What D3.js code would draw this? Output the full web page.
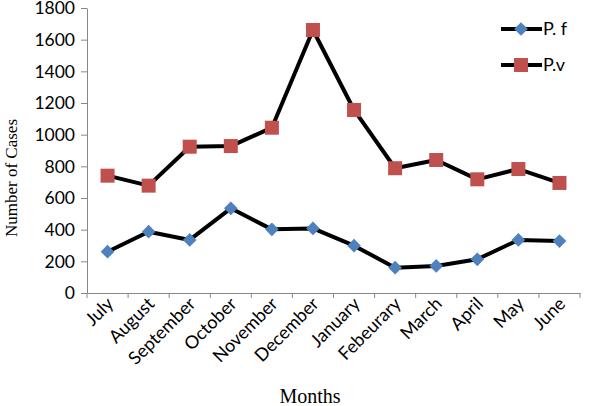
<!DOCTYPE html>
<html><head><meta charset="utf-8">
<script src="https://cdn.jsdelivr.net/npm/d3@7"></script>
<style>body{margin:0;background:#fff}svg{display:block}</style>
</head><body><svg id="c" width="600" height="406"></svg>
<script>
const months = ["July","August","September","October","November","December","January","Febeurary","March","April","May","June"];
const pf = [261,387,335,535,402,408,299,160,171,213,335,328];
const pv = [741,678,924,928,1044,1661,1156,788,840,718,783,695];
const yTicks = [0,200,400,600,800,1000,1200,1400,1600,1800];

(function(){
const svg = d3.select("#c");
const mLeft = 87, mRight = 580, mTop = 8, mBottom = 293;
const x = d3.scaleBand().domain(months).range([mLeft, mRight]);
const y = d3.scaleLinear().domain([0,1800]).range([mBottom, mTop]);
const axisColor = "#888";
const sans = "Lato, 'Open Sans', sans-serif";

// y axis
const ya = svg.append("g").attr("transform",`translate(${mLeft},0)`)
  .call(d3.axisLeft(y).tickValues(yTicks).tickFormat(d3.format("d")).tickSize(6).tickPadding(5).tickSizeOuter(0));
ya.select(".domain").attr("stroke", axisColor);
ya.selectAll(".tick line").attr("stroke", axisColor);
ya.selectAll(".tick text").attr("font-family", sans).attr("font-size", 17.5).attr("fill","#000").attr("dx",-1).attr("dy","0.33em");

// x axis
const xa = svg.append("g").attr("transform",`translate(0,${mBottom})`)
  .call(d3.axisBottom(x).tickSize(0).tickFormat(""));
xa.select(".domain").attr("stroke", axisColor);
const bounds = months.map(m => x(m)).concat([mRight]);
svg.append("g").selectAll("line").data(bounds).join("line")
  .attr("x1", d=>d).attr("x2", d=>d).attr("y1", mBottom).attr("y2", mBottom+5)
  .attr("stroke", axisColor);
svg.append("g").selectAll("text").data(months).join("text")
  .attr("transform", d => `translate(${x(d)+x.bandwidth()/2+7},${mBottom+12}) rotate(-45)`)
  .attr("text-anchor","end").attr("font-family", sans).attr("font-size", 18).attr("fill","#000")
  .text(d=>d);

// titles
svg.append("text").attr("transform","translate(17,178) rotate(-90)").attr("text-anchor","middle")
  .attr("font-family","'Liberation Serif', 'Times New Roman', serif").attr("font-size",17).text("Number of Cases");
svg.append("text").attr("x",310).attr("y",403).attr("text-anchor","middle")
  .attr("font-family","'Liberation Serif', 'Times New Roman', serif").attr("font-size",20).text("Months");

// lines
const line = d3.line().x((d,i)=>x(months[i])+x.bandwidth()/2).y(d=>y(d));
[pf, pv].forEach(s => svg.append("path").datum(s).attr("d", line).attr("fill","none")
  .attr("stroke","#000").attr("stroke-width",4).attr("stroke-linejoin","round"));

const blue = "#4F81BD", red = "#C0504D";
function diamond(g, cx, cy){ g.append("path").attr("d", d3.symbol(d3.symbolDiamond2, 120)()).attr("transform",`translate(${cx},${cy})`).attr("fill",blue); }
function square(g, cx, cy){ g.append("rect").attr("x",cx-7).attr("y",cy-7).attr("width",14).attr("height",14).attr("fill",red); }

const gm = svg.append("g");
pf.forEach((v,i)=>diamond(gm, x(months[i])+x.bandwidth()/2, y(v)));
pv.forEach((v,i)=>square(gm, x(months[i])+x.bandwidth()/2, y(v)));

// legend
const legend = [{name:"P. f", ly:29, m:diamond},{name:"P.v", ly:65, m:square}];
legend.forEach(l=>{
  svg.append("line").attr("x1",501).attr("x2",542).attr("y1",l.ly).attr("y2",l.ly).attr("stroke","#000").attr("stroke-width",4);
  l.m(svg, 521, l.ly);
  svg.append("text").attr("x",543).attr("y",l.ly+6).attr("font-family",sans).attr("font-size",18).text(l.name);
});
})();
</script></body></html>
